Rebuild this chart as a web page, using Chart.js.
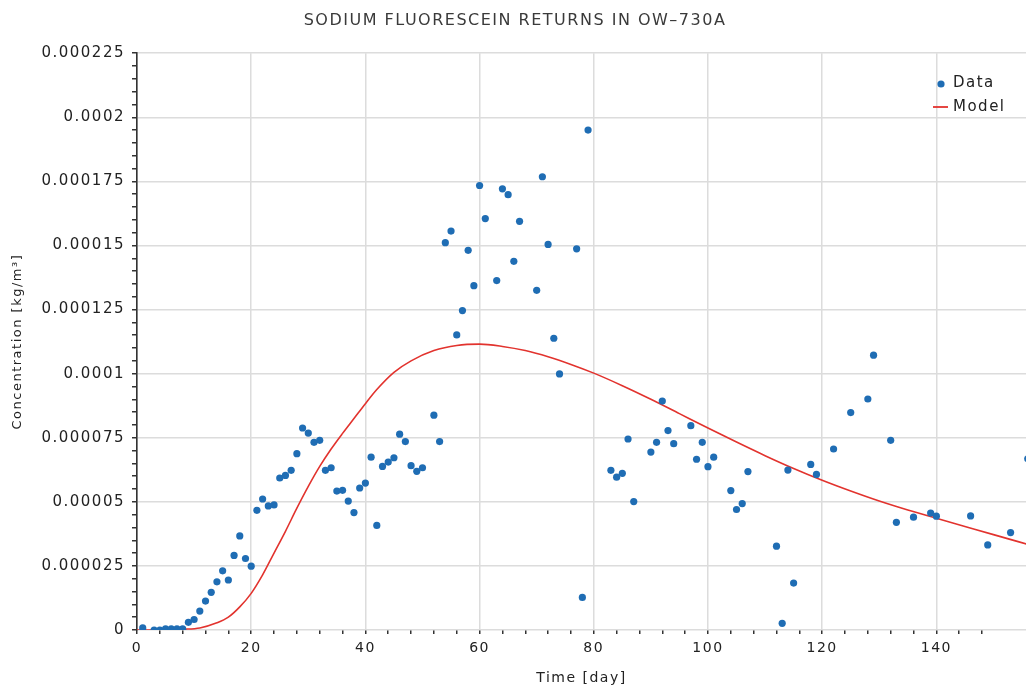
<!DOCTYPE html>
<html><head><meta charset="utf-8">
<script src="https://cdn.jsdelivr.net/npm/chart.js@4/dist/chart.umd.min.js"></script>
<style>html,body{margin:0;padding:0;background:#fff;overflow:hidden}</style>
</head><body>
<canvas id="c" width="1030" height="693"></canvas>
<script>
// Observed data: time [day]
const dataDays = [1,3,4,5,6,7,8,9,10,11,12,13,14,15,16,17,18,19,20,21,22,23,24,25,26,27,28,29,30,31,32,33,34,35,36,37,38,39,40,41,42,43,44,45,46,47,48,49,50,52,53,54,55,56,57,58,59,60,61,63,64,65,66,67,70,71,72,73,74,77,78,79,83,84,85,86,87,90,91,92,93,94,97,98,99,100,101,104,105,106,107,112,113,114,115,118,119,122,125,128,129,132,133,136,139,140,146,149,153,156];
// Observed concentration [kg/m3]
const dataConc = [0.8e-6,0,0,0.4e-6,0.4e-6,0.4e-6,0.4e-6,3.0e-6,4.1e-6,7.4e-6,11.3e-6,14.7e-6,18.8e-6,23.1e-6,19.5e-6,29.1e-6,36.7e-6,27.9e-6,24.9e-6,46.7e-6,51.1e-6,48.4e-6,48.8e-6,59.3e-6,60.3e-6,62.3e-6,68.8e-6,78.8e-6,76.8e-6,73.2e-6,74.0e-6,62.3e-6,63.3e-6,54.2e-6,54.5e-6,50.3e-6,45.8e-6,55.4e-6,57.3e-6,67.4e-6,40.8e-6,63.8e-6,65.5e-6,67.2e-6,76.4e-6,73.5e-6,64.1e-6,61.9e-6,63.3e-6,83.8e-6,73.5e-6,151.1e-6,155.6e-6,115.1e-6,124.6e-6,148.1e-6,134.3e-6,173.4e-6,160.5e-6,136.3e-6,172.1e-6,169.8e-6,143.8e-6,159.4e-6,132.5e-6,176.8e-6,150.4e-6,113.8e-6,99.9e-6,148.7e-6,12.7e-6,195.0e-6,62.3e-6,59.6e-6,61.1e-6,74.5e-6,50.1e-6,69.4e-6,73.2e-6,89.3e-6,77.8e-6,72.7e-6,79.7e-6,66.6e-6,73.2e-6,63.7e-6,67.4e-6,54.4e-6,47.0e-6,49.3e-6,61.8e-6,32.7e-6,2.6e-6,62.4e-6,18.3e-6,64.6e-6,60.7e-6,70.6e-6,84.8e-6,90.1e-6,107.2e-6,74.0e-6,42.0e-6,44.0e-6,45.6e-6,44.4e-6,44.5e-6,33.2e-6,38.0e-6,66.8e-6];
// Model curve
const modelDays = [0,5,8,11,14,16,18,20,22,24,26,28,30,32,34,36,38,40,42,45,48,52,56,60,64,68,72,76,80,85,90,95,100,105,110,115,120,125,130,135,140,145,150,156];
const modelConc = [0,0,0.3e-6,0.8e-6,2.8e-6,5.0e-6,9.0e-6,14.3e-6,21.5e-6,30.0e-6,38.5e-6,47.5e-6,56.0e-6,63.8e-6,70.6e-6,76.7e-6,82.5e-6,88.3e-6,93.8e-6,100.5e-6,105.0e-6,109.0e-6,111.0e-6,111.5e-6,110.6e-6,109.0e-6,106.6e-6,103.6e-6,100.2e-6,95.3e-6,90.0e-6,84.4e-6,78.8e-6,73.3e-6,68.0e-6,63.0e-6,58.4e-6,54.2e-6,50.3e-6,46.8e-6,43.6e-6,40.4e-6,37.2e-6,33.4e-6];
const yTickLabels = ['0','0.000025','0.00005','0.000075','0.0001','0.000125','0.00015','0.000175','0.0002','0.000225'];
const xTickLabels = ['0','20','40','60','80','100','120','140'];

const FONT = 'DejaVu Sans';
const BLUE = '#1f6db4';
const RED = '#e2332e';

const spacingPlugin = {
  id: 'spacing',
  beforeDraw(chart) { chart.ctx.letterSpacing = '1.5px'; }
};

const legendPlugin = {
  id: 'insideLegend',
  afterDraw(chart) {
    const ctx = chart.ctx;
    ctx.save();
    ctx.fillStyle = BLUE;
    ctx.beginPath(); ctx.arc(941, 84, 3.6, 0, Math.PI * 2); ctx.fill();
    ctx.strokeStyle = RED; ctx.lineWidth = 1.8;
    ctx.beginPath(); ctx.moveTo(933, 107); ctx.lineTo(948, 107); ctx.stroke();
    ctx.fillStyle = '#222';
    ctx.font = '15px "' + FONT + '"';
    ctx.letterSpacing = '1.5px';
    ctx.textBaseline = 'middle';
    ctx.fillText(chart.data.datasets[0].label, 953, 83);
    ctx.fillText(chart.data.datasets[1].label, 953, 107);
    ctx.restore();
  }
};

new Chart(document.getElementById('c'), {
  type: 'scatter',
  data: {
    datasets: [
      { label: 'Data', order: 1, data: dataDays.map((d, i) => ({x: d, y: dataConc[i]})),
        backgroundColor: BLUE, borderWidth: 0, pointRadius: 3.6 },
      { label: 'Model', type: 'line', order: 2, data: modelDays.map((d, i) => ({x: d, y: modelConc[i]})),
        borderColor: RED, borderWidth: 1.6, pointRadius: 0, fill: false, showLine: true,
        cubicInterpolationMode: 'monotone' }
    ]
  },
  options: {
    responsive: false, animation: false, devicePixelRatio: 1,
    layout: { padding: 0 },
    plugins: {
      legend: { display: false },
      tooltip: { enabled: false },
      title: { display: true, text: 'SODIUM FLUORESCEIN RETURNS IN OW\u2013730A', color: '#3a3a3a',
        font: { family: FONT, size: 16, weight: 'normal' }, padding: { top: 11, bottom: 23 } }
    },
    scales: {
      x: {
        type: 'linear', min: 0, max: 155.7,
        border: { display: false },
        grid: {
          color: c => (c.tick && Math.abs(c.tick.value % 20) < 1e-9) ? '#dcdcdc' : 'rgba(0,0,0,0)',
          lineWidth: 1.5,
          tickColor: c => (c.tick && Math.abs(c.tick.value % 4) < 1e-9) ? '#333' : 'rgba(0,0,0,0)',
          tickLength: 4
        },
        ticks: {
          stepSize: 4, autoSkip: false, maxRotation: 0, padding: 6, color: '#222',
          font: { family: FONT, size: 14 },
          callback: v => (Math.abs(v % 20) < 1e-9) ? xTickLabels[Math.round(v / 20)] : ''
        },
        title: { display: true, text: 'Time [day]', color: '#222', font: { family: FONT, size: 14 }, padding: { top: 0, bottom: 6 } },
        afterFit: s => { s.height = 63; s.paddingRight = 0; }
      },
      y: {
        type: 'linear', min: 0, max: 0.000225,
        border: { display: true, color: '#333', width: 1.6 },
        grid: {
          color: c => (c.index % 5 === 0) ? '#dcdcdc' : 'rgba(0,0,0,0)',
          lineWidth: 1.5,
          tickColor: '#333',
          tickLength: 5
        },
        ticks: {
          stepSize: 0.000005, maxTicksLimit: 100, autoSkip: false, padding: 7, color: '#222',
          font: { family: FONT, size: 15 },
          callback: (v, i) => (i % 5 === 0) ? yTickLabels[i / 5] : ''
        },
        title: { display: true, text: 'Concentration [kg/m\u00b3]', color: '#222', font: { family: FONT, size: 13 }, padding: { top: 10, bottom: 0 } },
        afterFit: s => { s.width = 137; }
      }
    }
  },
  plugins: [spacingPlugin, legendPlugin]
});
</script>
</body></html>
